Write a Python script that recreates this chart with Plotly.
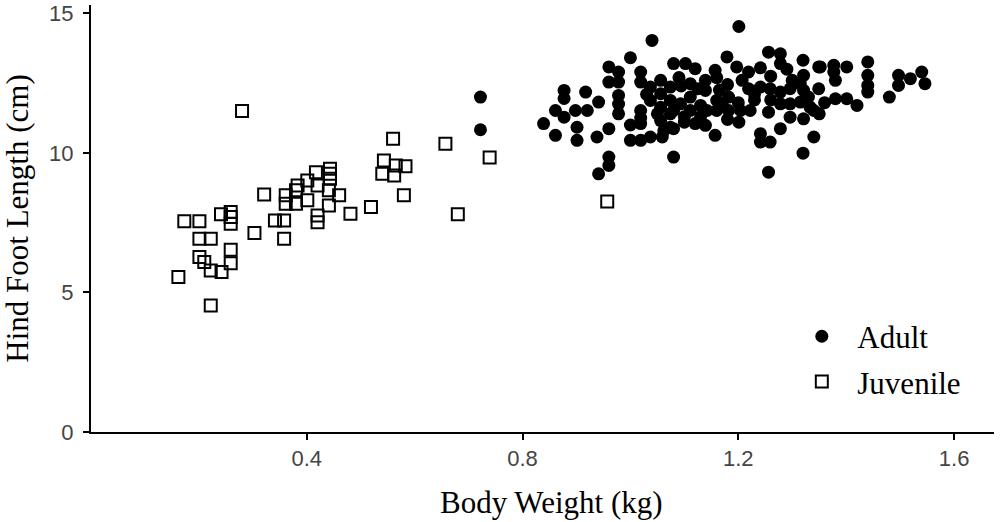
import plotly.graph_objects as go

# Adult: body weight (kg), hind foot length (cm)
adult_weight = [
    0.722, 0.722, 0.839, 0.861, 0.861, 0.877, 0.877, 0.877, 0.898, 0.901, 0.901, 0.917, 0.920,
    0.941, 0.938, 0.960, 0.960, 0.960, 0.941, 0.960, 0.978, 0.960, 0.978, 0.978, 0.978, 0.978,
    1.000, 1.040, 1.019, 1.019, 1.019, 1.019, 1.000, 1.019, 1.037, 1.059, 1.037, 1.037, 1.056,
    1.056, 1.056, 1.056, 1.074, 1.074, 1.074, 1.074, 1.080, 1.080, 1.062, 1.019, 1.000,
    1.201, 1.256, 1.278, 1.278, 1.320, 1.349, 1.179, 1.157, 1.197, 1.219, 1.241, 1.207, 1.219,
    1.102, 1.120, 1.139, 1.139, 1.111, 1.094, 1.111, 1.093, 1.080, 1.160, 1.182, 1.142, 1.160,
    1.182, 1.204, 1.222, 1.201, 1.120, 1.139, 1.157, 1.080, 1.241, 1.259, 1.278, 1.296, 1.315,
    1.321, 1.278, 1.296, 1.315, 1.333, 1.349, 1.256, 1.296, 1.321, 1.278, 1.241, 1.241, 1.259,
    1.340, 1.320, 1.256, 1.350, 1.111, 1.100,
    1.352, 1.377, 1.401, 1.377, 1.440, 1.440, 1.440, 1.440, 1.380, 1.401, 1.420, 1.480, 1.497,
    1.497, 1.519, 1.540, 1.546, 1.321, 1.340,
    1.125, 1.165, 1.180, 1.130, 1.170, 1.200, 1.230, 1.260, 1.230, 1.100, 1.130, 1.180, 1.050,
    1.030, 1.090, 1.160, 1.260, 1.290, 1.300, 1.330, 1.360, 1.380,
]
adult_foot = [
    12.00, 10.83, 11.05, 11.52, 10.63, 12.24, 11.95, 11.28, 11.52, 10.92, 10.45, 12.18, 11.52,
    11.82, 10.57, 10.87, 9.85, 9.55, 9.25, 13.08, 12.90, 12.54, 12.54, 12.06, 11.40, 11.75,
    13.41, 14.03, 12.90, 12.54, 11.52, 11.05, 10.45, 10.45, 10.57, 10.57, 12.36, 11.88, 12.60,
    12.12, 11.64, 11.16, 12.36, 11.88, 11.40, 10.92, 13.20, 9.85, 10.80, 11.25, 11.00,
    14.53, 13.61, 13.55, 13.20, 13.32, 13.08, 13.44, 12.96, 13.08, 12.90, 13.05, 12.60, 12.30,
    13.20, 13.02, 12.60, 12.24, 12.48, 12.40, 12.00, 11.76, 11.52, 11.88, 12.00, 11.52, 11.52,
    11.52, 11.52, 11.52, 11.10, 11.05, 10.99, 10.63, 10.87, 12.36, 12.30, 12.18, 12.30, 12.48,
    12.78, 11.76, 11.76, 11.82, 11.64, 12.30, 11.46, 11.28, 11.22, 10.87, 10.69, 10.39, 10.39,
    10.57, 9.99, 9.31, 11.40, 11.52, 11.10,
    13.08, 13.14, 13.08, 12.90, 13.26, 12.78, 12.42, 12.18, 11.94, 11.94, 11.70, 12.00, 12.78,
    12.42, 12.66, 12.90, 12.48, 12.24, 11.52,
    12.30, 12.25, 12.45, 11.70, 11.75, 11.80, 11.90, 11.90, 12.10, 11.30, 11.30, 11.20, 11.40,
    12.10, 12.70, 12.70, 12.75, 13.00, 12.60, 12.00, 11.80, 12.60,
]

# Juvenile
juvenile_weight = [
    0.280, 0.560, 0.657, 0.543, 0.565, 0.583, 0.540, 0.562, 0.580, 0.443, 0.443, 0.443, 0.417,
    0.401, 0.420, 0.383, 0.380, 0.361, 0.380, 0.401, 0.361, 0.441, 0.460, 0.441, 0.420, 0.420,
    0.481, 0.519, 0.321, 0.341, 0.358, 0.358, 0.303, 0.259, 0.259, 0.259, 0.241, 0.173, 0.201,
    0.201, 0.222, 0.201, 0.210, 0.222, 0.242, 0.259, 0.259, 0.162, 0.222, 0.680, 0.739, 0.957,
]
juvenile_foot = [
    11.50, 10.51, 10.33, 9.73, 9.55, 9.52, 9.25, 9.19, 8.48, 9.43, 9.25, 9.07, 9.31,
    9.01, 8.83, 8.83, 8.66, 8.48, 8.18, 8.30, 8.18, 8.66, 8.48, 8.12, 7.76, 7.52,
    7.82, 8.06, 8.51, 7.58, 7.58, 6.92, 7.13, 7.88, 7.70, 7.46, 7.80, 7.55, 7.55,
    6.92, 6.92, 6.27, 6.09, 5.79, 5.73, 6.53, 6.05, 5.55, 4.53, 7.80, 9.84, 8.26,
]

x_ticks = [0.4, 0.8, 1.2, 1.6]
x_tick_labels = ["0.4", "0.8", "1.2", "1.6"]
y_ticks = [0, 5, 10, 15]
y_tick_labels = ["0", "5", "10", "15"]

serif = "Liberation Serif, Times New Roman, serif"
sans = "Liberation Sans, Arial, sans-serif"

fig = go.Figure()
fig.add_trace(go.Scatter(
    x=adult_weight, y=adult_foot, mode="markers", name="Adult", legendgroup="a",
    marker=dict(symbol="circle", size=13, color="black", line=dict(width=0)),
))
fig.add_trace(go.Scatter(
    x=juvenile_weight, y=juvenile_foot, mode="markers", name="Juvenile", legendgroup="j",
    marker=dict(symbol="square-open", size=12, color="black", line=dict(width=2, color="black")),
))

fig.update_layout(
    width=1002, height=522,
    margin=dict(l=91, r=8, t=5, b=90),
    paper_bgcolor="white", plot_bgcolor="white",
    showlegend=True,
    legend=dict(x=0.770, y=0.2866, xanchor="left", yanchor="top",
                font=dict(family=serif, size=31, color="black"),
                tracegroupgap=2, itemwidth=61, bgcolor="rgba(0,0,0,0)"),
    xaxis=dict(
        range=[0, 1.674], tickvals=x_ticks, ticktext=x_tick_labels,
        showline=True, linecolor="black", linewidth=2, mirror=False,
        ticks="outside", ticklen=6, tickwidth=1.5, tickcolor="black",
        showgrid=False, zeroline=False, automargin=False,
        tickfont=dict(family=sans, size=22, color="#444"),
    ),
    yaxis=dict(
        range=[0, 15.3], tickvals=y_ticks, ticktext=y_tick_labels,
        showline=True, linecolor="black", linewidth=2, automargin=False,
        ticks="outside", ticklen=6, tickwidth=1.5, tickcolor="black",
        showgrid=False, zeroline=False, ticklabelstandoff=5,
        tickfont=dict(family=sans, size=22, color="#444"),
        title=dict(text="Hind Foot Length (cm)", font=dict(family=serif, size=31, color="black"), standoff=14),
    ),
    annotations=[dict(
        text="Body Weight (kg)", xref="paper", yref="paper", x=0.5105, y=-0.166,
        xanchor="center", yanchor="middle", showarrow=False,
        font=dict(family=serif, size=31, color="black"),
    )],
)

fig.write_html(
    "out.html",
    config={"displayModeBar": False},
    post_script="document.body.style.margin='0';document.body.style.overflow='hidden';",
)
